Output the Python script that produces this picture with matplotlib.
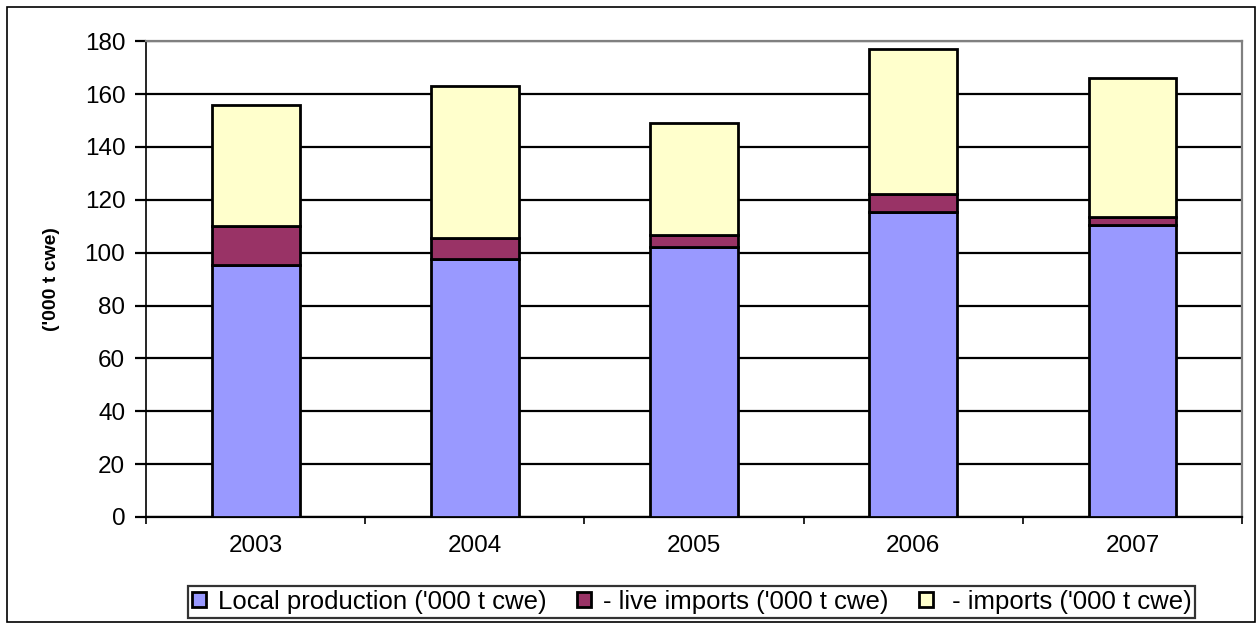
import matplotlib.pyplot as plt
import numpy as np

plt.rcParams['font.family'] = ['Liberation Sans', 'DejaVu Sans']

years = ['2003', '2004', '2005', '2006', '2007']
local_production = [95.5, 97.5, 102, 115.5, 110.5]
live_imports = [14.5, 8.0, 4.5, 6.5, 3.0]
imports = [46.0, 57.5, 42.5, 55.0, 52.5]

labels = ["Local production ('000 t cwe)",
          "- live imports ('000 t cwe)",
          " - imports ('000 t cwe)"]
colors = ['#9999FF', '#993366', '#FFFFCC']

fig = plt.figure(figsize=(12.6, 6.24), dpi=100)
ax = fig.add_axes([0.116, 0.1715, 0.8697, 0.7625])

# outer chart border
fig.patches.append(plt.Rectangle((0.0056, 0.004), 0.9905, 0.985, transform=fig.transFigure,
                                 fill=False, edgecolor='black', linewidth=1.2))

x = np.arange(len(years))
w = 0.4
bottom = np.zeros(len(years))
for vals, lab, col in zip([local_production, live_imports, imports], labels, colors):
    ax.bar(x, vals, w, bottom=bottom, color=col, edgecolor='black', linewidth=2.0,
           label=lab, zorder=3)
    bottom += np.array(vals)

ax.set_xlim(-0.5, 4.5)
ax.set_ylim(0, 180)
ax.set_yticks(range(0, 181, 20))
ax.yaxis.grid(True, color='black', linewidth=1.6, zorder=0)
ax.set_axisbelow(True)

ax.set_xticks(x)
ax.set_xticklabels(years, fontsize=17.5)
ax.set_xticks(np.arange(-0.5, 4.6, 1), minor=True)
ax.tick_params(axis='x', which='major', length=0, pad=13)
ax.tick_params(axis='x', which='minor', length=5, width=1.2)
ax.tick_params(axis='y', length=8, width=1.6, labelsize=17.5, pad=7)

for side in ['top', 'right']:
    ax.spines[side].set_color('#808080')
    ax.spines[side].set_linewidth(1.6)
ax.spines['left'].set_linewidth(1.2)
ax.spines['bottom'].set_linewidth(1.6)

ax.set_ylabel("('000 t cwe)", fontsize=14, fontweight='bold', labelpad=18)

leg = fig.legend(loc='lower center', bbox_to_anchor=(0.549, -0.002), ncol=3, fontsize=18.5,
                 frameon=True, fancybox=False, edgecolor='black', handlelength=0.55,
                 handleheight=0.55, handletextpad=0.45, columnspacing=1.2,
                 borderpad=0.15, borderaxespad=0.3)
leg.get_frame().set_linewidth(1.6)

fig.savefig('out.png', dpi=100)
